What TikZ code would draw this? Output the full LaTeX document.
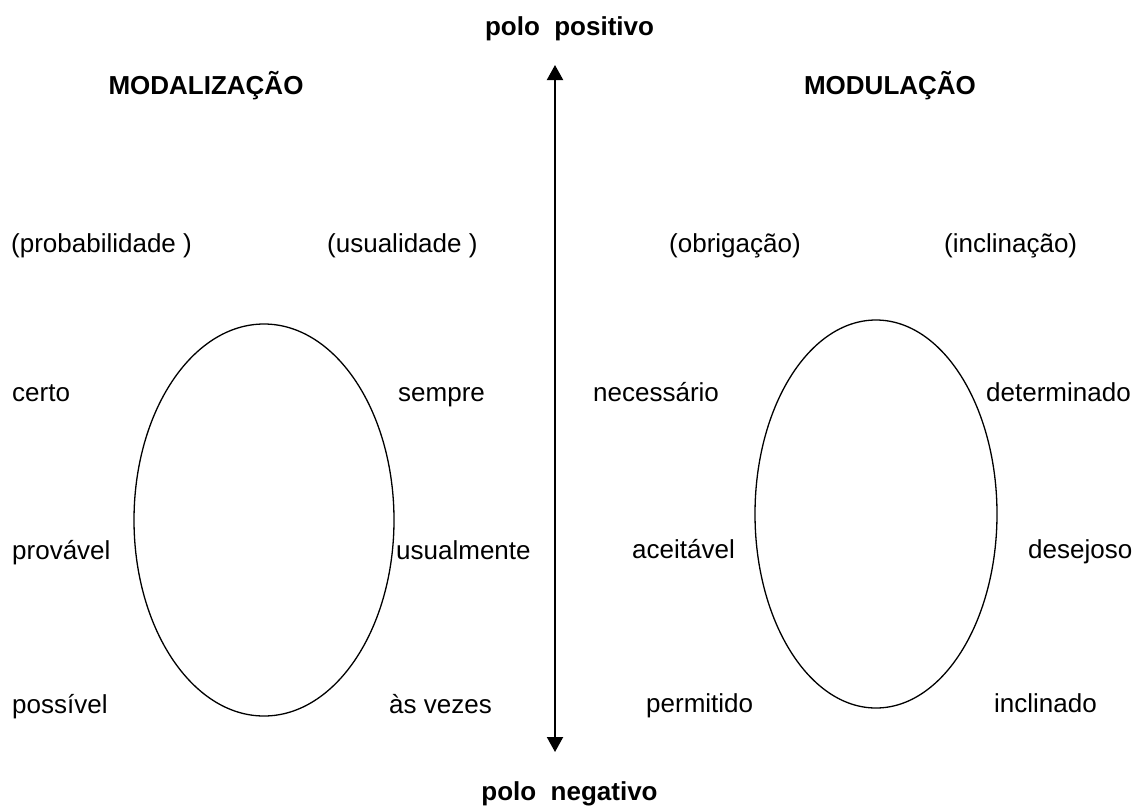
\documentclass[tikz,border=0pt]{standalone}
\usepackage{fontspec}
\setmainfont{Liberation Sans}
\usetikzlibrary{arrows.meta}
\begin{document}
\begin{tikzpicture}[x=1pt,y=-1pt,
  lbl/.style={anchor=base west, inner sep=0pt, font=\fontsize{26}{30}\selectfont},
  ttl/.style={anchor=base, inner sep=0pt, font=\fontsize{26}{30}\selectfont\bfseries},
  oval/.style={draw, line width=1.3pt},
  axis/.style={line width=2pt, {Triangle[length=15pt,width=16pt]}-{Triangle[length=15pt,width=16pt]}}]
\useasboundingbox (0,0) rectangle (1137,807);
% axis
\node[ttl] (pos) at (569.5,35) {polo\ \ positivo};
\node[ttl] (neg) at (569.5,800) {polo\ \ negativo};
\coordinate (top) at (555,65);
\coordinate (bot) at (555,752);
\draw[axis] (top) -- (bot);
% titles
\node[ttl] (modal) at (206,94) {MODALIZAÇÃO};
\node[ttl] (modul) at (890,94) {MODULAÇÃO};
% categories
\node[lbl] (prob) at (11,252) {(probabilidade )};
\node[lbl] (usual) at (327,252) {(usualidade )};
\node[lbl] (obrig) at (669,252) {(obrigação)};
\node[lbl] (incl) at (944,252) {(inclinação)};
% ellipses
\draw[oval] (264,520) ellipse [x radius=130, y radius=196];
\draw[oval] (876,514) ellipse [x radius=121, y radius=194];
% values
\node[lbl] (certo) at (12,401) {certo};
\node[lbl] (sempre) at (398,401) {sempre};
\node[lbl] (nec) at (593,401) {necessário};
\node[lbl] (det) at (986,401) {determinado};
\node[lbl] (prov) at (12,559) {provável};
\node[lbl] (usm) at (396,559) {usualmente};
\node[lbl] (acei) at (632,558) {aceitável};
\node[lbl] (desej) at (1028,558) {desejoso};
\node[lbl] (poss) at (12,713) {possível};
\node[lbl] (asv) at (389,713) {às vezes};
\node[lbl] (perm) at (646,712) {permitido};
\node[lbl] (inclin) at (994,712) {inclinado};
\end{tikzpicture}
\end{document}
